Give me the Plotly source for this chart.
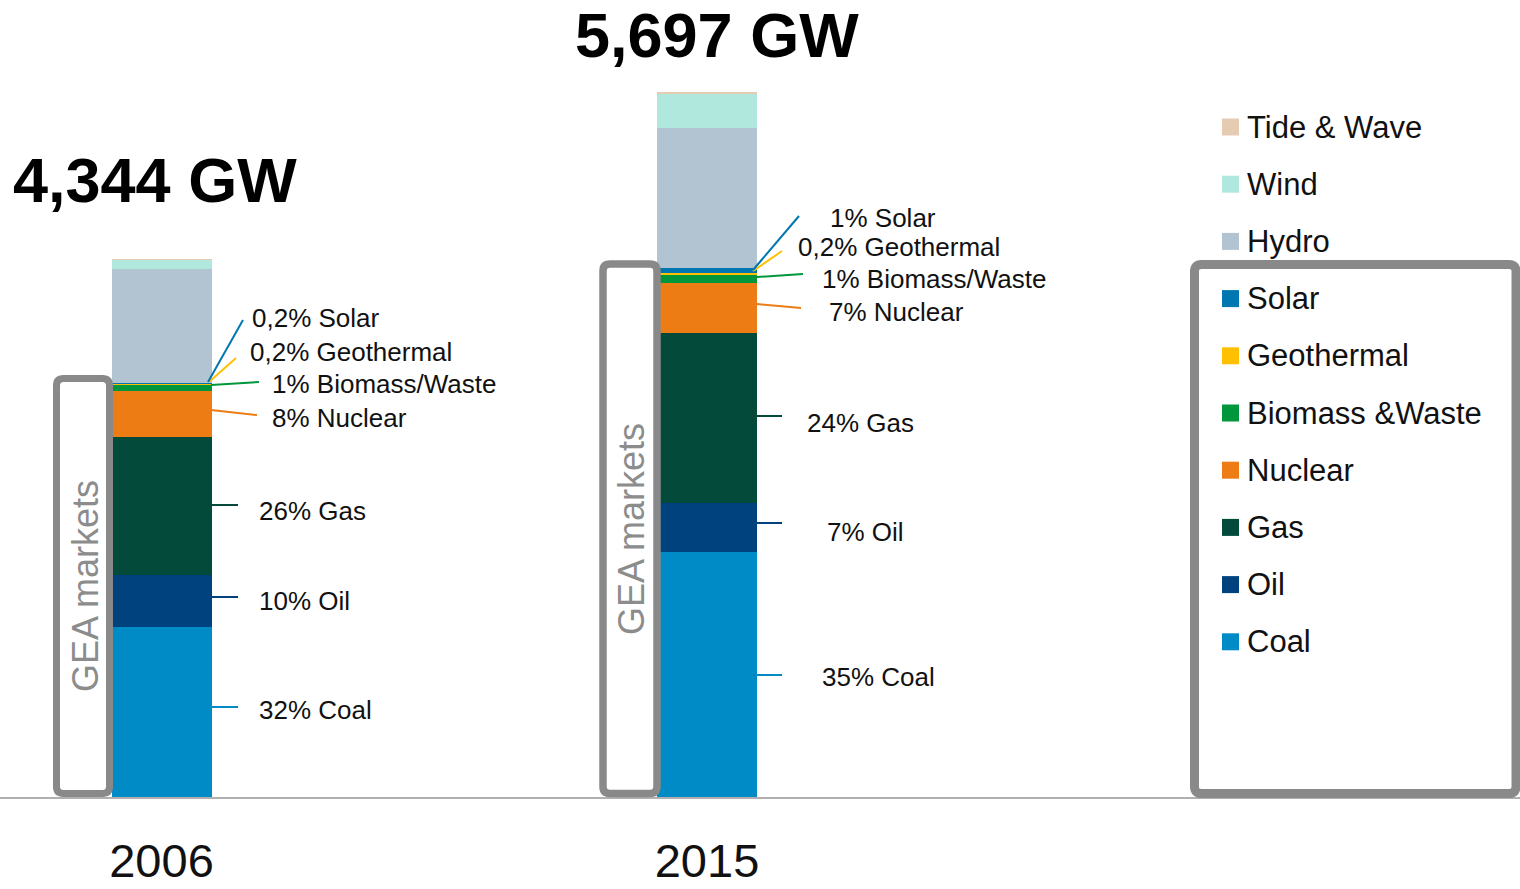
import plotly.graph_objects as go

# data (GW)
years = ["2006", "2015"]
sources = ["Coal", "Oil", "Gas", "Nuclear", "Biomass & Waste", "Geothermal",
           "Solar", "Hydro", "Wind", "Tide & Wave"]
cap_2006 = [1375, 421, 1116, 372, 48, 9, 9, 920, 73, 1]
cap_2015 = [1985, 390, 1378, 401, 70, 10, 45, 1132, 281, 5]
colors = ["#008ac6", "#00427e", "#034a3a", "#ec7c13", "#00963c", "#ffc000",
          "#0077b0", "#b2c4d2", "#b0e8de", "#e6cbb3"]
legend_labels = ["Coal", "Oil", "Gas", "Nuclear", "Biomass &Waste", "Geothermal",
                 "Solar", "Hydro", "Wind", "Tide & Wave"]

# callout texts (share labels) for the thin/main segments, per year
labels_2006 = ["32% Coal", "10% Oil", "26% Gas", "8% Nuclear", "1% Biomass/Waste",
               "0,2% Geothermal", "0,2% Solar"]
labels_2015 = ["35% Coal", "7% Oil", "24% Gas", "7% Nuclear", "1% Biomass/Waste",
               "0,2% Geothermal", "1% Solar"]

W, H = 1520, 889
PLOT_H = 797
FONT = "Liberation Sans, Arial, sans-serif"


def px(x):
    return x / W


def py(y):
    return (PLOT_H - y) / PLOT_H


fig = go.Figure()
for i, src in enumerate(sources):
    fig.add_trace(go.Bar(x=[0, 1], y=[cap_2006[i], cap_2015[i]], name=src,
                         marker=dict(color=colors[i], line=dict(width=0)),
                         width=0.1833, showlegend=False))

# axis mapping: bar centres at 161.5px and 707px
unit = 707 - 161.5
x0 = -161.5 / unit
x1 = x0 + W / unit
ymax = PLOT_H / 0.12366

annotations = []
shapes = []

# totals
for yr, vals, (cx, cy) in zip(years, [cap_2006, cap_2015], [(155, 180), (717, 35)]):
    annotations.append(dict(x=px(cx), y=py(cy), xref="paper", yref="paper",
                            text=f"<b>{sum(vals):,} GW</b>", showarrow=False,
                            font=dict(size=63, color="#000000", family=FONT),
                            xanchor="center", yanchor="middle"))

# callouts: (label start x, label y, line start, line end)
callout_2006 = [
    (257, 710, (207, 707), (238, 707)),
    (257, 601, (207, 597), (238, 597)),
    (257, 511, (207, 505), (238, 505)),
    (270, 418, (211, 410), (257, 415)),
    (270, 384, (211, 385), (259, 382)),
    (248, 352, (209, 382), (236, 358)),
    (250, 318, (208, 382), (243, 320)),
]
callout_2015 = [
    (820, 677, (750, 675), (782, 675)),
    (825, 532, (750, 523), (782, 523)),
    (805, 423, (750, 416), (782, 416)),
    (827, 312, (757, 304), (801, 308)),
    (820, 279, (757, 277), (803, 274)),
    (796, 247, (753, 271), (782, 251)),
    (828, 218, (753, 270), (799, 216)),
]
for labels, callouts in [(labels_2006, callout_2006), (labels_2015, callout_2015)]:
    for i, (txt, (tx, ty, p0, p1)) in enumerate(zip(labels, callouts)):
        annotations.append(dict(x=px(tx), y=py(ty), xref="paper", yref="paper",
                                text=txt, showarrow=False, xanchor="left", yanchor="middle",
                                font=dict(size=26, color="#111111", family=FONT)))
        shapes.append(dict(type="line", xref="paper", yref="paper",
                           x0=px(p0[0]), y0=py(p0[1]), x1=px(p1[0]), y1=py(p1[1]),
                           line=dict(color=colors[i], width=2)))


def rounded_rect(xa, ya, xb, yb, r=7):
    rx, ry = r / W, r / PLOT_H
    X0, X1, Y0, Y1 = px(xa), px(xb), py(ya), py(yb)
    return (f"M {X0 + rx},{Y0} L {X1 - rx},{Y0} Q {X1},{Y0} {X1},{Y0 - ry} "
            f"L {X1},{Y1 + ry} Q {X1},{Y1} {X1 - rx},{Y1} L {X0 + rx},{Y1} "
            f"Q {X0},{Y1} {X0},{Y1 + ry} L {X0},{Y0 - ry} Q {X0},{Y0} {X0 + rx},{Y0} Z")


# GEA markets boxes and legend frame
for (xa, ya, xb, yb, lw) in [(56.5, 378.5, 109.5, 793.5, 7), (603, 264, 657, 793.5, 7.5),
                             (1194.5, 264.5, 1516, 793.5, 9)]:
    shapes.append(dict(type="path", xref="paper", yref="paper",
                       path=rounded_rect(xa, ya, xb, yb),
                       line=dict(color="#898989", width=lw)))

for cx, cy in [(85, 586), (631, 529)]:
    annotations.append(dict(x=px(cx), y=py(cy), xref="paper", yref="paper",
                            text="GEA markets", textangle=-90, showarrow=False,
                            font=dict(size=36, color="#8c8c8c", family=FONT),
                            xanchor="center", yanchor="middle"))

# legend (top to bottom: Tide & Wave ... Coal)
for k, i in enumerate(range(len(sources) - 1, -1, -1)):
    cy = 127 + k * 57.2
    shapes.append(dict(type="rect", xref="paper", yref="paper",
                       x0=px(1222), x1=px(1239), y0=py(cy - 8.5), y1=py(cy + 8.5),
                       fillcolor=colors[i], line=dict(width=0)))
    annotations.append(dict(x=px(1245), y=py(cy), xref="paper", yref="paper",
                            text=legend_labels[i], showarrow=False,
                            xanchor="left", yanchor="middle",
                            font=dict(size=31, color="#111111", family=FONT)))

fig.update_layout(
    barmode="stack",
    width=W, height=H,
    margin=dict(l=0, r=0, t=0, b=H - PLOT_H),
    plot_bgcolor="white", paper_bgcolor="white",
    xaxis=dict(range=[x0, x1], tickvals=[0, 1], ticktext=years,
               tickfont=dict(size=47, color="#111111", family=FONT),
               showline=True, linecolor="#b0b0b0", linewidth=1.5,
               showgrid=False, zeroline=False, ticks="", ticklabelstandoff=22,
               automargin=False),
    yaxis=dict(range=[0, ymax], visible=False, automargin=False),
    annotations=annotations,
    shapes=shapes,
)

fig.write_html("out.html", config={"displayModeBar": False},
               post_script="document.body.style.margin='0';")
